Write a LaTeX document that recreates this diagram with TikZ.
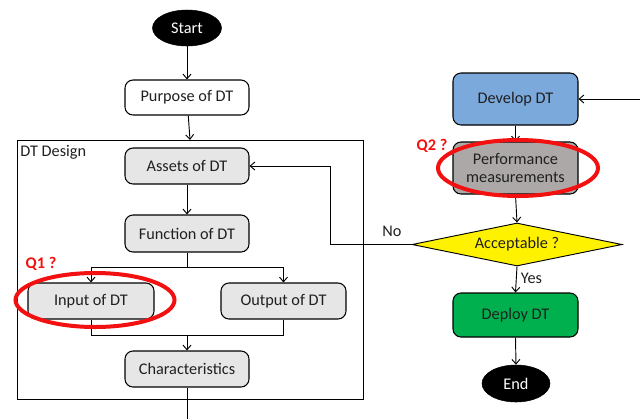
\documentclass[tikz,border=0pt]{standalone}
\usepackage{fontspec}
\setmainfont{Carlito}
\usetikzlibrary{arrows.meta,shapes.geometric}
\definecolor{boxgray}{HTML}{E6E6E6}
\definecolor{devblue}{HTML}{7BA9DC}
\definecolor{perfgray}{HTML}{ADA8A8}
\definecolor{okgreen}{HTML}{00B04F}
\definecolor{qred}{HTML}{F21010}
\definecolor{ink}{HTML}{202020}
\tikzset{
  every node/.style={font=\fontsize{12.2}{14}\selectfont, text=ink},
  flow/.style={draw=black, line width=0.8pt, rounded corners=6pt, align=center, inner sep=0pt},
  terminal/.style={ellipse, draw=black, fill=black, text=white, inner sep=0pt},
  link/.style={draw=black, line width=0.7pt, -{Straight Barb[length=3.5pt,width=6pt]}},
  plain/.style={draw=black, line width=0.7pt},
  question/.style={text=qred, font=\fontsize{12.2}{14}\selectfont\bfseries},
  mark ring/.style={ellipse, draw=qred, line width=3pt, inner sep=0pt}
}
\begin{document}
\begin{tikzpicture}[x=0.75pt,y=-0.75pt]
\useasboundingbox (0,0) rectangle (640,419);

% left column
\node[terminal, minimum width=69*0.75pt, minimum height=36*0.75pt] (start) at (187,28) {Start};
\node[flow, fill=white, minimum width=124*0.75pt, minimum height=35*0.75pt] (purpose) at (187,97.5) {Purpose of DT};

% design frame
\draw[plain] (17,140) rectangle (363,399);
\node[anchor=north west, inner sep=0pt] (dtlabel) at (20,145) {DT Design};
\coordinate (frametop) at (190,140);

\node[flow, fill=boxgray, minimum width=124*0.75pt, minimum height=36*0.75pt] (assets) at (187,166) {Assets of DT};
\node[flow, fill=boxgray, minimum width=124*0.75pt, minimum height=37*0.75pt] (function) at (187,233.5) {Function of DT};
\node[flow, fill=boxgray, minimum width=126*0.75pt, minimum height=36*0.75pt] (input) at (91,301) {Input of DT};
\node[flow, fill=boxgray, minimum width=125*0.75pt, minimum height=36*0.75pt] (output) at (283.5,301) {Output of DT};
\node[flow, fill=boxgray, minimum width=124*0.75pt, minimum height=36*0.75pt] (charac) at (187,369) {Characteristics};
\coordinate (exit) at (187,419);

\coordinate (split) at (187,267);
\coordinate (merge) at (187,335);

\draw[link] (start) -- (purpose);
\draw[link] (purpose) -- (frametop);
\draw[link] (assets) -- (function);
\draw[plain] (function.south) -- (split);
\draw[link] (split) -| (input.north);
\draw[link] (split) -| (output.north);
\draw[plain] (input.south) |- (merge);
\draw[plain] (output.south) |- (merge);
\draw[link] (merge) -- (charac.north);
\draw[plain] (charac.south) -- (exit);

% right column
\coordinate (loopin) at (640,99);
\node[flow, fill=devblue, minimum width=125*0.75pt, minimum height=52*0.75pt] (develop) at (515.5,99) {Develop DT};
\node[flow, fill=perfgray, minimum width=125*0.75pt, minimum height=52*0.75pt] (perf) at (515.5,168) {Performance\\measurements};
\node[diamond, draw=black, line width=0.7pt, fill=yellow, inner sep=0pt, aspect=4.9,
      minimum width=210*0.75pt, minimum height=43*0.75pt] (accept) at (517,244.5) {Acceptable ?};
\node[flow, fill=okgreen, minimum width=125*0.75pt, minimum height=44*0.75pt] (deploy) at (515.5,315) {Deploy DT};
\node[terminal, minimum width=68*0.75pt, minimum height=37*0.75pt] (end) at (516,383.5) {End};

\draw[link] (loopin) -- (develop.east);
\draw[link] (develop.south) -- (perf.north);
\draw[link] (perf.south) -- (accept.north);
\draw[link] (accept.south) -- node[right, inner sep=3pt, pos=0.45] (yes) {Yes} (deploy.north);
\draw[link] (deploy.south) -- (end.north);
\draw[link] (accept.west) -- ++(-81,0) coordinate (bend) |- (assets.east);
\node (no) at (392,231) {No};

% open questions
\node[mark ring, minimum width=159*0.75pt, minimum height=54*0.75pt] (q1ring) at (95,300) {};
\node[question] (q1) at (41,263.5) {Q1 ?};
\node[mark ring, minimum width=160*0.75pt, minimum height=56*0.75pt] (q2ring) at (518,168) {};
\node[question] (q2) at (432,145.5) {Q2 ?};
\end{tikzpicture}
\end{document}
